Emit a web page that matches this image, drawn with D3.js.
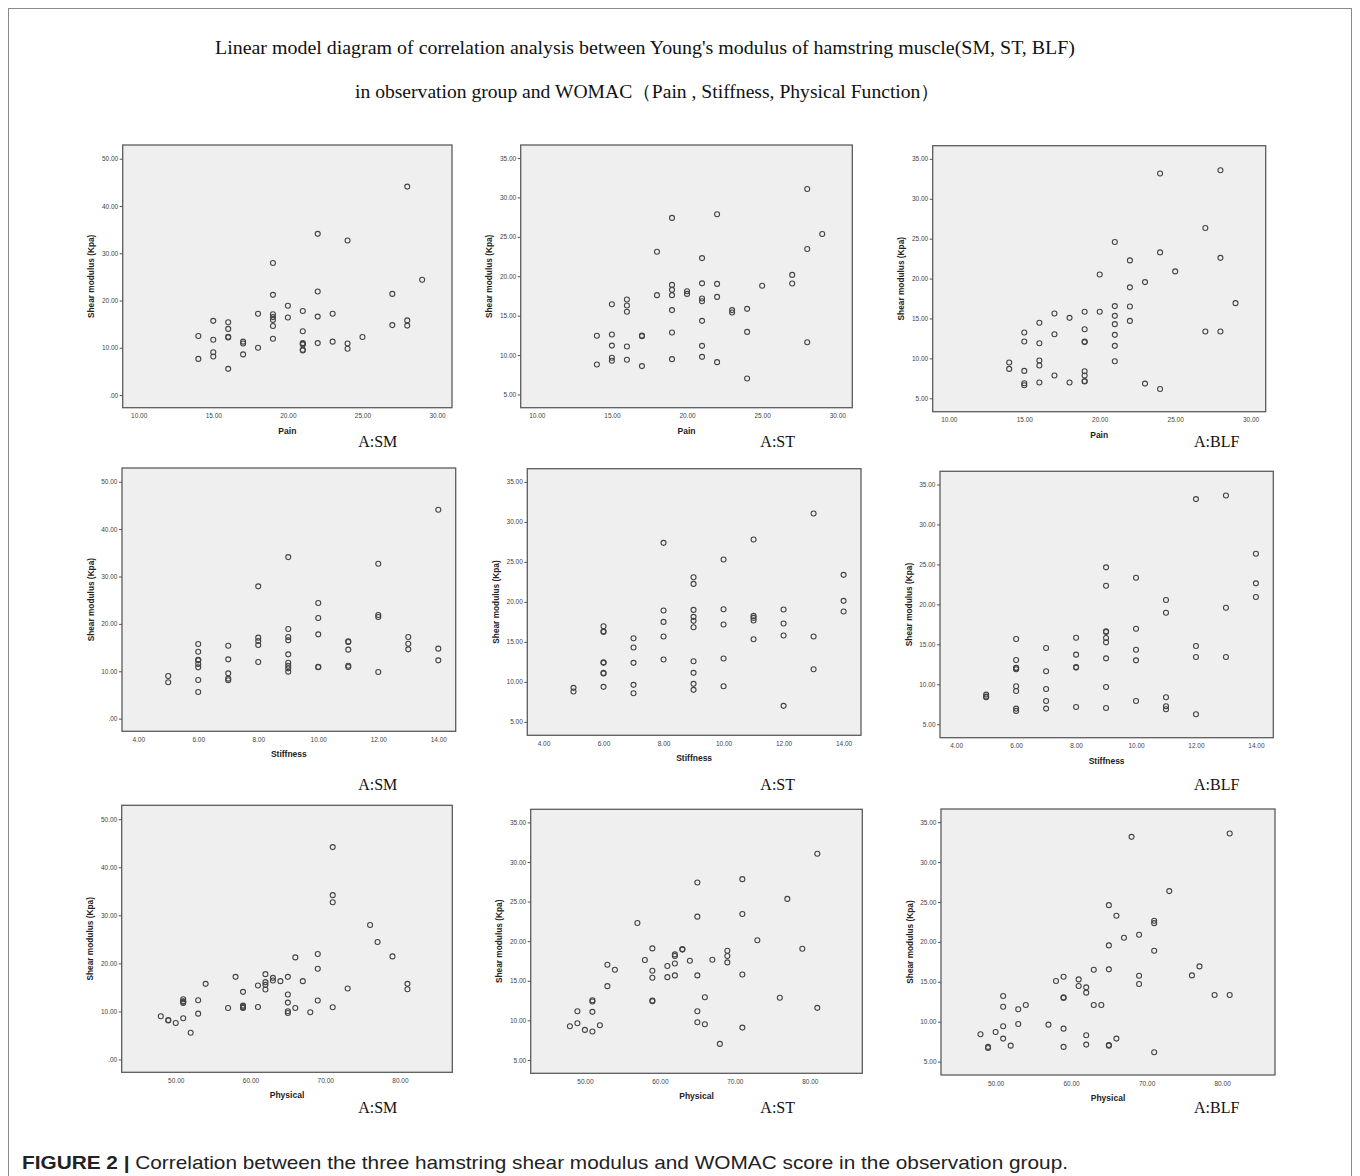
<!DOCTYPE html>
<html>
<head>
<meta charset="utf-8">
<script src="https://cdn.jsdelivr.net/npm/d3@7"></script>
<style>
  body { margin: 0; background: #fff; }
  svg { display: block; }
</style>
</head>
<body>
<div id="chart"></div>
<script>
// Values: [womac score, shear modulus (Kpa)]
const painSM = [[14,12.5],[14,7.65],[15,15.7],[15,11.7],[15,9.05],[15,8.15],[16,15.4],[16,14.0],[16,12.35],[16,12.2],[16,5.55],[17,11.3],[17,10.9],[17,8.6],[18,17.2],[18,10.0],[19,27.95],[19,21.2],[19,17.1],[19,16.5],[19,15.9],[19,14.6],[19,11.9],[20,18.9],[20,16.4],[21,17.8],[21,13.5],[21,11.0],[21,10.85],[21,10.7],[21,9.6],[21,9.45],[22,34.1],[22,21.9],[22,16.6],[22,11.0],[23,17.2],[23,11.3],[24,32.7],[24,10.9],[24,9.8],[25,12.3],[27,21.4],[27,14.8],[28,44.1],[28,15.8],[28,14.7],[29,24.4]]
const painST = [[14,12.44],[14,8.8],[15,16.45],[15,12.6],[15,11.2],[15,9.65],[15,9.27],[16,17.04],[16,16.28],[16,15.5],[16,11.08],[16,9.4],[17,12.48],[17,12.4],[17,8.6],[18,23.1],[18,17.6],[19,27.4],[19,18.9],[19,18.27],[19,17.6],[19,15.7],[19,12.86],[19,9.48],[20,18.1],[20,17.76],[21,22.3],[21,19.1],[21,17.17],[21,16.83],[21,14.34],[21,11.17],[21,9.77],[22,27.86],[22,19.03],[22,17.38],[22,9.1],[23,15.7],[23,15.4],[24,15.86],[24,12.94],[24,7.03],[25,18.8],[27,20.17],[27,19.07],[28,31.07],[28,23.46],[28,11.63],[29,25.36]]
const painBLF = [[14,9.48],[14,8.68],[15,13.24],[15,12.11],[15,8.43],[15,6.88],[15,6.63],[16,14.46],[16,11.9],[16,9.73],[16,9.1],[16,6.97],[17,15.63],[17,13.03],[17,7.85],[18,15.08],[18,6.97],[19,15.84],[19,13.66],[19,12.1],[19,12.04],[19,8.39],[19,7.85],[19,7.16],[19,7.1],[20,20.52],[20,15.84],[21,24.58],[21,16.55],[21,15.33],[21,14.29],[21,12.95],[21,11.57],[21,9.64],[22,22.28],[22,18.9],[22,16.5],[22,14.7],[23,19.56],[23,6.84],[24,33.16],[24,23.28],[24,6.17],[25,20.9],[27,26.34],[27,13.37],[28,33.58],[28,22.6],[28,13.37],[29,16.92]]

const stiffSM = [[5,9.0],[5,7.67],[6,15.75],[6,14.13],[6,12.42],[6,12.3],[6,11.53],[6,10.83],[6,8.16],[6,5.63],[7,15.4],[7,12.52],[7,9.56],[7,8.44],[7,8.09],[8,27.92],[8,17.09],[8,16.39],[8,15.54],[8,11.95],[9,34.1],[9,18.92],[9,17.23],[9,16.53],[9,13.57],[9,11.81],[9,11.18],[9,10.62],[9,9.92],[10,24.4],[10,21.24],[10,17.79],[10,10.95],[10,10.85],[11,16.3],[11,16.18],[11,14.56],[11,11.18],[11,10.9],[12,32.7],[12,21.87],[12,21.45],[12,9.85],[13,17.23],[13,15.82],[13,14.63],[14,44.1],[14,14.77],[14,12.3]]
const stiffST = [[5,9.25],[5,8.79],[6,16.96],[6,16.33],[6,16.25],[6,12.46],[6,12.38],[6,11.12],[6,11.04],[6,9.38],[7,15.46],[7,14.29],[7,12.38],[7,9.63],[7,8.58],[8,27.38],[8,18.92],[8,17.5],[8,15.67],[8,12.79],[9,23.08],[9,22.25],[9,19.0],[9,18.13],[9,17.63],[9,16.83],[9,12.58],[9,11.13],[9,9.75],[9,9.0],[10,25.29],[10,19.08],[10,17.17],[10,12.92],[10,9.46],[11,27.79],[11,18.25],[11,18.0],[11,17.67],[11,15.33],[12,19.04],[12,17.29],[12,15.79],[12,7.0],[13,31.04],[13,15.67],[13,11.58],[14,23.38],[14,20.13],[14,18.79]]
const stiffBLF = [[5,8.71],[5,8.46],[5,8.38],[6,15.67],[6,13.04],[6,12.08],[6,12.0],[6,11.88],[6,9.75],[6,9.17],[6,6.96],[6,6.67],[7,14.54],[7,11.63],[7,9.42],[7,7.92],[7,6.96],[8,15.83],[8,13.71],[8,12.17],[8,12.09],[8,7.17],[9,24.63],[9,22.33],[9,16.62],[9,16.54],[9,15.79],[9,15.25],[9,13.25],[9,9.67],[9,7.04],[10,23.33],[10,16.96],[10,14.33],[10,13.0],[10,7.92],[11,20.54],[11,18.96],[11,8.38],[11,7.25],[11,6.88],[12,33.17],[12,14.79],[12,13.42],[12,6.25],[13,33.63],[13,19.58],[13,13.42],[14,26.33],[14,22.63],[14,20.92]]

const physSM = [[48,8.98],[49,8.2],[49,8.1],[50,7.59],[51,8.57],[51,12.53],[51,12.12],[51,12.0],[51,11.77],[52,5.57],[53,12.33],[53,9.54],[54,15.74],[57,10.72],[58,17.2],[59,14.07],[59,11.21],[59,10.98],[59,10.88],[59,10.72],[61,15.39],[61,10.93],[62,17.76],[62,16.09],[62,15.53],[62,14.55],[63,16.99],[63,16.43],[64,16.3],[65,17.2],[65,13.51],[65,11.84],[65,10.03],[65,9.68],[66,21.24],[66,10.72],[67,16.3],[68,9.82],[69,21.94],[69,18.87],[69,12.26],[71,44.2],[71,34.2],[71,32.73],[71,10.86],[73,14.76],[76,27.99],[77,24.44],[79,21.45],[81,15.74],[81,14.62]]
const physST = [[48,9.26],[49,11.16],[49,9.64],[50,8.8],[51,12.55],[51,12.38],[51,11.08],[51,8.59],[52,9.39],[53,17.03],[53,14.32],[54,16.39],[57,22.3],[58,17.62],[59,19.09],[59,16.27],[59,15.38],[59,12.5],[59,12.43],[61,16.86],[61,15.46],[62,18.33],[62,18.12],[62,17.19],[62,15.68],[63,19.0],[63,18.94],[64,17.53],[65,27.4],[65,23.1],[65,15.68],[65,11.16],[65,9.77],[66,12.93],[66,9.51],[67,17.66],[68,7.03],[69,18.8],[69,18.12],[69,17.32],[71,27.83],[71,23.44],[71,15.8],[71,9.09],[73,20.11],[76,12.85],[77,25.34],[79,19.05],[81,31.03],[81,11.58]]
const physBLF = [[48,8.42],[49,6.84],[49,6.71],[50,8.71],[51,13.22],[51,11.88],[51,9.42],[51,7.88],[52,7.0],[53,11.55],[53,9.71],[54,12.09],[57,9.63],[58,15.1],[59,15.64],[59,13.05],[59,12.97],[59,9.13],[59,6.84],[61,15.3],[61,14.47],[62,14.3],[62,13.64],[62,8.3],[62,7.13],[63,16.51],[63,12.09],[64,12.09],[65,24.6],[65,19.56],[65,16.56],[65,7.08],[65,7.0],[66,23.27],[66,7.88],[67,20.52],[68,33.16],[69,20.9],[69,15.76],[69,14.72],[71,22.65],[71,22.35],[71,18.89],[71,6.17],[73,26.36],[76,15.8],[77,16.93],[79,13.34],[81,33.58],[81,13.34]]

// Tick values
const painTicks = [10, 15, 20, 25, 30]
const stiffTicks = [4, 6, 8, 10, 12, 14]
const physTicks = [50, 60, 70, 80]
const smTicks = [0, 10, 20, 30, 40, 50]
const stTicks = [5, 10, 15, 20, 25, 30, 35]

// Axis labels and text
const xLabels = ['Pain', 'Stiffness', 'Physical']
const muscleTags = ['A:SM', 'A:ST', 'A:BLF']
const yLabel = 'Shear modulus (Kpa)'
const titleLines = [
  'Linear model diagram of correlation analysis between Young\'s modulus of hamstring muscle(SM, ST, BLF)',
  'in observation group and WOMAC（Pain , Stiffness, Physical Function）'
]
const captionBold = 'FIGURE 2 | '
const captionText = 'Correlation between the three hamstring shear modulus and WOMAC score in the observation group.'

// Scale domains (SPSS pads the data range)
const xDomains = [[8.93, 31.0], [3.46, 14.58], [42.77, 87.0]]
const yDomainSM = [-2.67, 52.9]
const yDomainOther = [3.32, 36.65]

const rows = [
  { data: [painSM, painST, painBLF], xTicks: painTicks },
  { data: [stiffSM, stiffST, stiffBLF], xTicks: stiffTicks },
  { data: [physSM, physST, physBLF], xTicks: physTicks }
]

// Frame boxes [left, top, width, height] per row / column
const frames = [
  [[122.7, 145, 329.3, 262.7], [520.7, 145, 331.6, 262.7], [932.7, 145.7, 333, 266]],
  [[122, 468, 333.7, 263.3], [527.3, 468.7, 333.7, 266.6], [940, 471.3, 333.3, 266.4]],
  [[121.7, 805.3, 330.6, 267], [530.7, 809.3, 331.6, 264], [941, 809, 334, 266]]
]
const tagX = [377.7, 777.7, 1216.7]
const tagY = [441.5, 784.7, 1107.3]

const width = 1360
const height = 1176

const svg = d3.select('#chart')
  .append('svg')
  .attr('width', width)
  .attr('height', height)

svg.append('rect')
  .attr('width', width)
  .attr('height', height)
  .attr('fill', '#fff')

// Outer figure border
svg.append('rect')
  .attr('x', 8.5)
  .attr('y', 8.5)
  .attr('width', 1343)
  .attr('height', 1200)
  .attr('fill', 'none')
  .attr('stroke', '#8a8a8a')
  .attr('stroke-width', 1)

// Title
const titleX = [645, 647.5]
const titleY = [54, 98]
const titleW = [860, 585]
titleLines.forEach((t, i) => {
  svg.append('text')
    .attr('x', titleX[i])
    .attr('y', titleY[i])
    .attr('text-anchor', 'middle')
    .attr('textLength', titleW[i])
    .attr('lengthAdjust', 'spacingAndGlyphs')
    .style('font-family', '"Liberation Serif", "DejaVu Serif", serif')
    .style('font-size', '19px')
    .style('fill', '#111')
    .text(t)
})

const fmt = v => d3.format('.2f')(v).replace(/^0\./, '.')

rows.forEach((row, r) => {
  row.data.forEach((pts, c) => {
    const [fx, fy, fw, fh] = frames[r][c]
    const xScale = d3.scaleLinear().domain(xDomains[r]).range([0, fw])
    const yTickVals = c === 0 ? smTicks : stTicks
    const yScale = d3.scaleLinear().domain(c === 0 ? yDomainSM : yDomainOther).range([fh, 0])

    const g = svg.append('g').attr('transform', `translate(${fx},${fy})`)

    // Plot area
    g.append('rect')
      .attr('width', fw)
      .attr('height', fh)
      .attr('fill', '#efefef')
      .attr('stroke', '#5c5c5c')
      .attr('stroke-width', 1.3)

    // Left axis
    const lAxis = g.append('g')
      .call(d3.axisLeft(yScale)
        .tickValues(yTickVals)
        .tickSize(3)
        .tickPadding(1.5)
        .tickFormat(fmt))
    lAxis.select('.domain').remove()
    lAxis.selectAll('line').attr('stroke', '#555')
    lAxis.selectAll('text')
      .style('font-family', '"Liberation Sans", Arial, sans-serif')
      .style('font-size', '6.5px')
      .attr('fill', '#444')

    // Bottom axis
    const bAxis = g.append('g')
      .attr('transform', `translate(0,${fh})`)
      .call(d3.axisBottom(xScale)
        .tickValues(row.xTicks)
        .tickSize(0)
        .tickPadding(6)
        .tickFormat(fmt))
    bAxis.select('.domain').remove()
    bAxis.selectAll('text')
      .style('font-family', '"Liberation Sans", Arial, sans-serif')
      .style('font-size', '6.5px')
      .attr('fill', '#444')

    // Points
    g.selectAll('.pt')
      .data(pts)
      .join('circle')
      .attr('class', 'pt')
      .attr('cx', d => xScale(d[0]))
      .attr('cy', d => yScale(d[1]))
      .attr('r', 2.5)
      .attr('fill', 'none')
      .attr('stroke', '#444')
      .attr('stroke-width', 1.1)

    // Axis labels
    g.append('text')
      .attr('x', fw / 2)
      .attr('y', fh + 26)
      .attr('text-anchor', 'middle')
      .style('font-family', '"Liberation Sans", Arial, sans-serif')
      .style('font-weight', 'bold')
      .style('font-size', '8.5px')
      .style('fill', '#222')
      .text(xLabels[r])

    g.append('text')
      .attr('transform', `translate(-31.5,${fh / 2}) rotate(-90)`)
      .attr('text-anchor', 'middle')
      .attr('dominant-baseline', 'central')
      .style('font-family', '"Liberation Sans", Arial, sans-serif')
      .style('font-weight', 'bold')
      .style('font-size', '8.3px')
      .style('fill', '#222')
      .text(yLabel)

    // Panel tag
    svg.append('text')
      .attr('x', tagX[c])
      .attr('y', tagY[r])
      .attr('text-anchor', 'middle')
      .attr('dominant-baseline', 'central')
      .style('font-family', '"Liberation Serif", "DejaVu Serif", serif')
      .style('font-size', '16px')
      .style('fill', '#111')
      .text(muscleTags[c])
  })
})

// Caption
const cap = svg.append('text')
  .attr('x', 22)
  .attr('y', 1169)
  .attr('textLength', 1046)
  .attr('lengthAdjust', 'spacingAndGlyphs')
  .style('font-family', '"Liberation Sans", Arial, sans-serif')
  .style('font-size', '19px')
  .style('fill', '#222')
cap.append('tspan')
  .style('font-weight', 'bold')
  .text(captionBold)
cap.append('tspan')
  .text(captionText)
</script>
</body>
</html>
